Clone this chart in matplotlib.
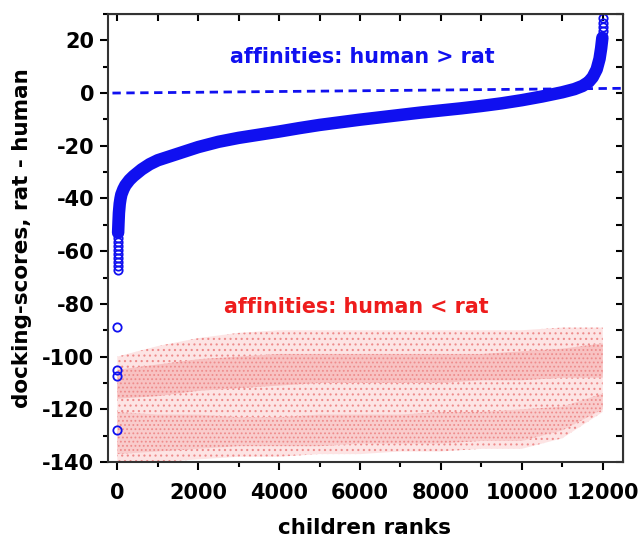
import numpy as np
import matplotlib.pyplot as plt
from matplotlib.ticker import MultipleLocator

plt.rcParams['font.family'] = 'DejaVu Sans'
plt.rcParams['font.weight'] = 'bold'
plt.rcParams['axes.unicode_minus'] = False
plt.rcParams['hatch.linewidth'] = 0.8

# blue: sorted differences (rat - human)
head_rank = [0, 0, 0, 0, 10, 10, 10, 10, 10, 10, 10, 10, 10]
head_val = [-128, -107.5, -105, -88.7, -67, -65.5, -64, -62.5, -61, -59.5, -58, -56.5, -55]

main_rank = [20, 30, 40, 60, 80, 100, 150, 200, 300, 400, 600, 800, 1000, 1500,
             2000, 2500, 3000, 3500, 4000, 4500, 5000, 5500, 6000, 6500, 7000,
             7500, 8000, 8500, 9000, 9500, 10000, 10500, 11000, 11300, 11500,
             11650, 11750, 11850, 11920, 11960, 11990]
main_val = [-53, -49, -45.5, -42, -40, -38.5, -36.5, -35, -33, -31.5, -29, -27,
            -25.5, -23, -20.5, -18.5, -17, -15.8, -14.6, -13.3, -12.1, -11.1,
            -10.1, -9.2, -8.3, -7.4, -6.6, -5.8, -4.9, -3.9, -2.7, -1.3, 0.3,
            1.5, 2.7, 4.2, 6, 9, 13, 17, 21]

tail_rank = [12000, 12000, 12000, 12000]
tail_val = [23.5, 25, 26.5, 28.5]

# red cloud: envelope of the scattered points per 1000 ranks
cloud_rank = [0, 1000, 2000, 3000, 4000, 5000, 6000, 7000, 8000, 9000, 10000, 11000, 12000]
cloud_top = [-100, -96, -93, -91, -90, -90, -90, -90, -90, -90, -90, -89, -89]
cloud_bot = [-140, -140, -139, -138, -138, -137, -137, -136, -136, -135, -135, -131, -121]
upper_hi = [-105, -103, -101, -100, -99, -99, -99, -99, -99, -99, -98, -97, -95]
upper_lo = [-116, -115, -113, -112, -111, -110, -110, -110, -110, -109, -109, -108, -108]
lower_hi = [-121, -122, -122, -123, -123, -122, -122, -122, -121, -121, -120, -119, -114]
lower_lo = [-137, -136, -135, -134, -134, -134, -133, -133, -133, -132, -132, -128, -120]

# fitted zero line
zero_x = [-120, 12500]
zero_y = [0, 1.8]

BLUE = '#1010f0'
RED = '#ee1c1c'
PINK = '#ee8c8c'

fig = plt.figure(figsize=(6.39, 5.39), dpi=100)
ax = fig.add_axes([108/639, 1-462/539, 515/639, 448/539])

# red cloud
ax.fill_between(cloud_rank, cloud_bot, cloud_top, facecolor='#fde4e4',
                edgecolor=PINK, hatch='...', linewidth=0)
ax.fill_between(cloud_rank, upper_lo, upper_hi, facecolor='#f8c2c2',
                edgecolor=PINK, hatch='....', linewidth=0)
ax.fill_between(cloud_rank, lower_lo, lower_hi, facecolor='#f9cccc',
                edgecolor=PINK, hatch='....', linewidth=0)

# blue curve
ax.plot(zero_x, zero_y, color=BLUE, lw=2, dashes=(3, 2))
ax.plot(main_rank, main_val, color=BLUE, lw=9, solid_capstyle='round')
ax.plot(head_rank, head_val, 'o', color=BLUE, mfc='none', ms=6, mew=1.3)
ax.plot(tail_rank, tail_val, 'o', color=BLUE, mfc='none', ms=6, mew=1.3)

ax.set_xlim(-230, 12500)
ax.set_ylim(-140, 30)
ax.xaxis.set_major_locator(MultipleLocator(2000))
ax.xaxis.set_minor_locator(MultipleLocator(1000))
ax.yaxis.set_major_locator(MultipleLocator(20))
ax.yaxis.set_minor_locator(MultipleLocator(10))
ax.tick_params(which='major', direction='out', length=6, width=1.5, labelsize=15)
ax.tick_params(which='minor', direction='out', length=3.5, width=1.5)
ax.tick_params(axis='x', which='major', pad=9)
ax.tick_params(axis='y', which='major', pad=4)
for s in ax.spines.values():
    s.set_linewidth(1.5)
    s.set_color('#333333')

top = ax.secondary_xaxis('top')
top.xaxis.set_major_locator(MultipleLocator(1000))
top.tick_params(which='both', direction='in', labeltop=False, width=1.5, length=5)
right = ax.secondary_yaxis('right')
right.yaxis.set_major_locator(MultipleLocator(10))
right.tick_params(which='both', direction='in', labelright=False, width=1.5, length=5)

ax.text(0.494, 0.8906, 'affinities: human > rat', transform=ax.transAxes,
        ha='center', va='baseline', color=BLUE, fontsize=14.9, fontweight='bold')
ax.text(0.4825, 0.3326, 'affinities: human < rat', transform=ax.transAxes,
        ha='center', va='baseline', color=RED, fontsize=14.9, fontweight='bold')

fig.text(365/639, 1-528/539, 'children ranks', ha='center', va='center',
         fontsize=15.5, fontweight='bold')
fig.text(22/639, 1-238/539, 'docking-scores, rat - human', ha='center', va='center',
         rotation=90, fontsize=15.5, fontweight='bold')

fig.savefig('out.png', dpi=100)
